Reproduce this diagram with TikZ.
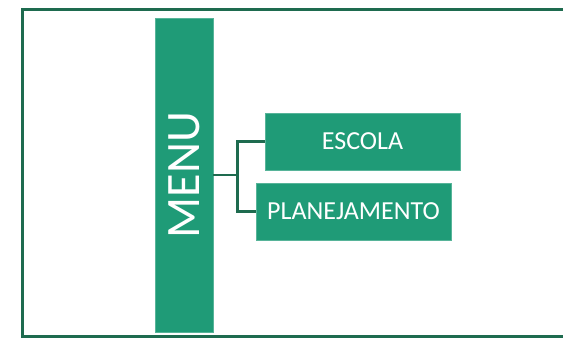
\documentclass[tikz,border=0pt]{standalone}
\usepackage{fontspec}
\setmainfont{Carlito}
\usepackage{xcolor}
\usepackage{tikz}
\usetikzlibrary{positioning}
\definecolor{boxgreen}{RGB}{31,155,119}
\definecolor{framegreen}{RGB}{30,107,79}

\tikzset{
	menubox/.style={fill=boxgreen,draw=boxgreen!75!white,line width=0.6pt,minimum width=58,minimum height=314,inner sep=0pt,text=white,font=\fontsize{48}{52}\selectfont},
	itembox/.style={fill=boxgreen,draw=boxgreen!75!white,line width=0.6pt,minimum width=195,minimum height=57,inner sep=0pt,text=white,font=\fontsize{26}{30}\selectfont},
	conn/.style={draw=framegreen,line width=2.5pt}
}

\begin{document}
\begin{tikzpicture}[x=1pt,y=-1pt]
		\useasboundingbox (0,0) rectangle (563,338);
		\draw[framegreen,line width=3pt] (575,9) -- (22,9) -- (22,336) -- (575,336);
		\node[menubox] (menu) at (184,175) {\rotatebox{90}{MENU}};
		\node[itembox] (escola) at (362.5,141.5) {ESCOLA};
		\node[itembox] (planej) at (353.5,211.5) {PLANEJAMENTO};
		\draw[conn] (menu.east) -- ++(24,0) coordinate (split) |- (escola.west);
		\draw[conn] (split) |- (planej.west);
	\end{tikzpicture}
\end{document}
